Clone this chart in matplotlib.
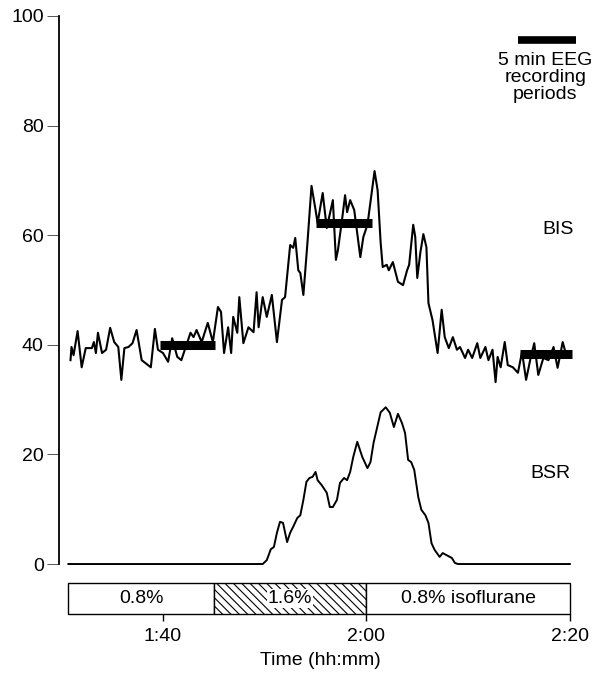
import matplotlib
matplotlib.use("Agg")
import matplotlib.pyplot as plt
from matplotlib.patches import Rectangle

plt.rcParams["font.family"] = ["Liberation Sans", "DejaVu Sans"]
plt.rcParams["font.size"] = 14
plt.rcParams["hatch.linewidth"] = 0.8

# time in minutes after 1:30
bis_t = [0.9, 1.0, 1.2, 1.6, 2.0, 2.4, 3.0, 3.2, 3.4, 3.6,
         4.0, 4.4, 4.8, 5.2, 5.6, 5.9, 6.2, 6.6, 7.0, 7.4,
         7.9, 8.8, 9.2, 9.5, 10.0, 10.5, 10.9, 11.4, 11.8, 12.2,
         12.7, 13.0, 13.3, 13.8, 14.4, 14.9, 15.4, 15.7, 16.0, 16.4,
         16.7, 16.9, 17.3, 17.5, 17.9, 18.4, 18.9, 19.2, 19.4, 19.8,
         20.2, 20.7, 21.2, 21.7, 22.0, 22.5, 22.8, 23.0, 23.3, 23.5,
         23.8, 24.2, 24.6, 25.0, 25.2, 25.7, 26.1, 26.7, 27.0, 27.2,
         27.6, 27.9, 28.1, 28.4, 28.8, 29.4, 29.7, 30.1, 30.8, 31.1,
         31.4, 31.6, 32.0, 32.2, 32.6, 33.1, 33.6, 34.0, 34.2, 34.6,
         34.8, 35.0, 35.3, 35.6, 35.9, 36.1, 36.5, 36.8, 37.0, 37.4,
         37.7, 38.1, 38.5, 38.9, 39.2, 39.7, 40.0, 40.4, 40.9, 41.2,
         41.7, 42.0, 42.4, 42.7, 42.9, 43.2, 43.6, 43.9, 44.4, 44.9,
         45.3, 45.7, 46.1, 46.5, 46.9, 47.4, 47.9, 48.4, 48.8, 49.3,
         49.7, 50.0]
bis_v = [37.2, 39.6, 38.1, 42.5, 35.9, 39.4, 39.4, 40.5, 38.5, 42.2,
         38.5, 39.1, 43.1, 40.5, 39.6, 33.6, 39.4, 39.6, 40.3, 42.7,
         37.2, 35.9, 42.9, 39.1, 38.5, 36.9, 41.2, 37.8, 37.2, 39.4,
         42.2, 41.4, 42.7, 40.5, 44.0, 40.5, 46.9, 46.0, 38.5, 43.2,
         38.5, 45.1, 42.2, 48.7, 40.3, 43.2, 42.3, 49.6, 43.2, 48.7,
         45.1, 49.1, 40.5, 48.2, 48.7, 58.2, 57.7, 59.5, 53.6, 53.1,
         49.1, 58.6, 69.0, 64.6, 62.2, 67.7, 61.3, 66.4, 55.5, 57.3,
         62.8, 67.3, 64.2, 66.4, 64.6, 56.0, 59.7, 61.9, 71.7, 68.2,
         58.6, 54.2, 54.6, 53.6, 55.1, 51.5, 50.9, 53.6, 54.6, 61.9,
         59.7, 52.2, 56.8, 60.2, 57.8, 47.6, 44.5, 40.9, 38.5, 46.4,
         41.4, 39.4, 41.4, 39.1, 39.6, 37.6, 39.1, 37.6, 40.3, 37.6,
         39.6, 37.2, 39.1, 33.2, 37.8, 35.9, 40.5, 36.3, 35.9, 34.9,
         38.7, 33.6, 37.2, 40.3, 34.5, 37.6, 37.2, 39.6, 35.8, 40.5,
         37.8, 38.7]

bsr_t = [0.7, 19.8, 20.2, 20.6, 20.9, 21.2, 21.5, 21.8, 22.2, 22.5,
         22.8, 23.2, 23.5, 23.8, 24.1, 24.4, 24.7, 25.0, 25.2, 25.6,
         26.1, 26.4, 26.7, 27.1, 27.4, 27.8, 28.1, 28.4, 28.7, 29.1,
         29.6, 30.1, 30.4, 30.7, 31.0, 31.4, 31.9, 32.3, 32.7, 33.1,
         33.5, 33.8, 34.1, 34.4, 34.7, 35.1, 35.4, 35.8, 36.1, 36.4,
         36.7, 37.2, 37.5, 38.0, 38.4, 38.7, 39.0, 50.0]
bsr_v = [0, 0, 0.7, 2.7, 3.1, 5.7, 7.7, 7.5, 4.0, 5.7,
         6.8, 8.4, 8.9, 11.7, 15.0, 15.7, 15.9, 16.8, 15.3, 14.4,
         13.0, 10.4, 10.4, 11.7, 14.8, 15.7, 15.3, 16.8, 19.5, 22.3,
         19.5, 17.5, 18.6, 22.1, 24.5, 27.7, 28.6, 27.6, 25.0, 27.4,
         25.7, 23.9, 19.0, 18.6, 17.2, 12.2, 9.9, 8.9, 7.5, 3.8,
         2.6, 1.3, 2.0, 1.5, 1.1, 0.2, 0, 0]

# 5 min EEG recording periods
rec_start = [9.7, 25.0, 45.1]
rec_end = [15.1, 30.5, 50.2]
rec_level = [40.0, 62.3, 38.3]

# isoflurane phases
iso_start = [0.7, 15.0, 30.0]
iso_end = [15.0, 30.0, 50.0]
iso_label = ["0.8%", "1.6%", "0.8% isoflurane"]
iso_hatch = [None, "\\\\\\\\", None]

tick_pos = [10, 30, 50]
tick_lab = ["1:40", "2:00", "2:20"]

fig = plt.figure(figsize=(5.95, 6.78), dpi=100)
ax = fig.add_axes([59 / 595, 1 - 614 / 678, (581 - 59) / 595, (614 - 16) / 678])
ax.set_xlim(-0.23, 51.1)
ax.set_ylim(-9.12, 100)

ax.plot(bis_t, bis_v, color="black", lw=1.5)
ax.plot(bsr_t, bsr_v, color="black", lw=1.4)

for s, e, lv in zip(rec_start, rec_end, rec_level):
    ax.plot([s, e], [lv, lv], color="black", lw=6.5, solid_capstyle="butt")

# legend key for recording periods
ax.plot([44.9, 50.6], [95.7, 95.7], color="black", lw=5.5,
        solid_capstyle="butt", clip_on=False)
ax.text(47.6, 93.5, "5 min EEG\nrecording\nperiods", ha="center", va="top",
        linespacing=1.0, clip_on=False)

ax.text(48.8, 61.0, "BIS", ha="center", va="center")
ax.text(48.1, 16.5, "BSR", ha="center", va="center")

# isoflurane bar
bar_lo, bar_hi = -9.12, -3.5
for s, e, lab, h in zip(iso_start, iso_end, iso_label, iso_hatch):
    ax.add_patch(Rectangle((s, bar_lo), e - s, bar_hi - bar_lo, facecolor="white",
                           edgecolor="black", lw=1.0, hatch=h, clip_on=False))
    ax.text((s + e) / 2, (bar_lo + bar_hi) / 2, lab, ha="center", va="center",
            bbox=dict(facecolor="white", edgecolor="none", pad=0.5))

for side in ["top", "right", "bottom"]:
    ax.spines[side].set_visible(False)
ax.spines["left"].set_bounds(0, 100)
ax.spines["left"].set_linewidth(1.3)

ax.set_yticks([0, 20, 40, 60, 80, 100])
ax.tick_params(axis="y", direction="out", length=9, width=0.7,
               color="#555555", pad=2)
ax.set_xticks(tick_pos)
ax.set_xticklabels(tick_lab)
ax.tick_params(axis="x", direction="out", length=5, width=1.0, pad=5)
ax.set_xlabel("Time (hh:mm)", labelpad=5)

fig.savefig("out.png", dpi=100)
